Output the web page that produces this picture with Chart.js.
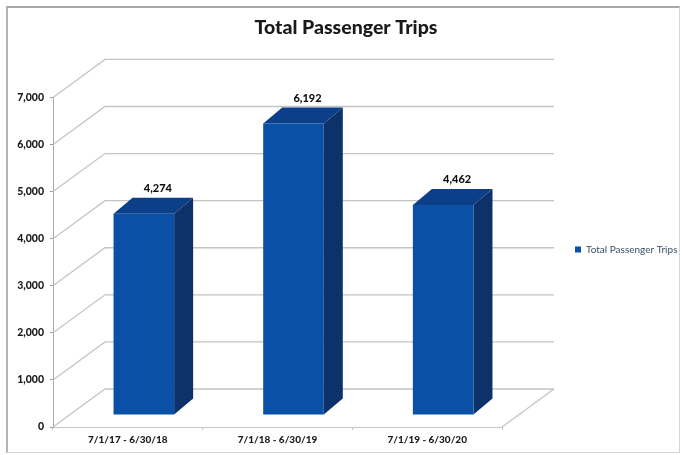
<!DOCTYPE html>
<html lang="en">
<head>
    <meta charset="utf-8">
    <title>Total Passenger Trips</title>
    <script src="https://cdn.jsdelivr.net/npm/chart.js@4/dist/chart.umd.min.js"></script>
    <style>
        html, body { margin: 0; background: #fff; overflow: hidden; }
        #frame { position: absolute; left: 6px; top: 6px; width: 674px; height: 447px; box-sizing: border-box;
                 border: 1px solid #d4d4d4; border-top: 2px solid #a8a8a8; border-left: 2px solid #b4b4b4; }
        /* the reference is a scan, so everything is a little soft */
        canvas { position: absolute; left: 0; top: 0; filter: blur(0.4px); }
    </style>
</head>
<body>
<div id="frame"></div>
<canvas id="tripsChart" width="683" height="455"></canvas>
<script>
    const periods = ["7/1/17 - 6/30/18", "7/1/18 - 6/30/19", "7/1/19 - 6/30/20"];
    const seriesName = "Total Passenger Trips";
    const trips = [4274, 6192, 4462];
    const yMax = 7000;
    const yStep = 1000;

    const fontName = "Lato, 'Open Sans', sans-serif";
    const gridColor = "#c4c4c4";

    // fake 3d: wall depth, and how far the bars sit in front of the wall
    const wall = {dx: 52, dy: -38};
    const barShift = {dx: 16, dy: -12};
    const barDepth = {dx: 19, dy: -16};
    const legendDrop = 22;

    function fillPoly(ctx, color, pts) {
        ctx.fillStyle = color;
        ctx.beginPath();
        pts.forEach((p, i) => i ? ctx.lineTo(p[0], p[1]) : ctx.moveTo(p[0], p[1]));
        ctx.closePath();
        ctx.fill();
    }

    const box3d = {
        id: "box3d",
        afterLayout(chart) {
            // legend sits above the middle of the plot in the reference
            chart.legend.top += legendDrop;
            chart.legend.bottom += legendDrop;
        },
        beforeDatasetsDraw(chart) {
            const ctx = chart.ctx;
            const area = chart.chartArea;
            const yScale = chart.scales.y;

            ctx.save();
            ctx.strokeStyle = gridColor;
            ctx.lineWidth = 1.3;
            yScale.ticks.forEach((t) => {
                const y = yScale.getPixelForValue(t.value);
                ctx.beginPath();
                ctx.moveTo(area.left, y);
                ctx.lineTo(area.left + wall.dx, y + wall.dy);
                ctx.lineTo(area.right + wall.dx, y + wall.dy);
                ctx.stroke();
            });
            ctx.beginPath();
            ctx.moveTo(area.right, area.bottom);
            ctx.lineTo(area.right + wall.dx, area.bottom + wall.dy);
            ctx.stroke();
            ctx.restore();

            // the side and top faces, then the bars themselves in the same shifted position
            ctx.save();
            ctx.translate(barShift.dx, barShift.dy);
            chart.getDatasetMeta(0).data.forEach((bar) => {
                const l = bar.x - bar.width / 2;
                const r = bar.x + bar.width / 2;
                fillPoly(ctx, "#0c3269", [[r, bar.y], [r + barDepth.dx, bar.y + barDepth.dy],
                    [r + barDepth.dx, bar.base + barDepth.dy], [r, bar.base]]);
                fillPoly(ctx, "#0b3f88", [[l, bar.y], [l + barDepth.dx, bar.y + barDepth.dy],
                    [r + barDepth.dx, bar.y + barDepth.dy], [r, bar.y]]);
            });
        },
        afterDatasetsDraw(chart) {
            const ctx = chart.ctx;
            ctx.restore();

            ctx.save();
            ctx.fillStyle = "#111";
            ctx.font = "900 11px " + fontName;
            ctx.textAlign = "center";
            ctx.textBaseline = "middle";
            chart.getDatasetMeta(0).data.forEach((bar, i) => {
                ctx.fillText(trips[i].toLocaleString("en-US"), bar.x + barShift.dx + 14, bar.y + barShift.dy - 25);
            });
            ctx.restore();
        }
    };

    new Chart(document.getElementById("tripsChart"), {
        type: "bar",
        data: {
            labels: periods,
            datasets: [{
                label: seriesName,
                data: trips,
                backgroundColor: "#0a50a6",
                borderWidth: 0,
                categoryPercentage: 1,
                barPercentage: 0.405,
                clip: false
            }]
        },
        options: {
            responsive: false,
            animation: false,
            layout: {padding: {top: 0, right: 5, bottom: 0, left: 14}},
            plugins: {
                title: {
                    display: true,
                    text: seriesName,
                    color: "#1a1a1a",
                    font: {family: fontName, size: 19.5, weight: "900"},
                    padding: {top: 16, bottom: 58}
                },
                legend: {
                    display: true,
                    position: "right",
                    maxWidth: 176,
                    labels: {
                        boxWidth: 6,
                        boxHeight: 6,
                        padding: 73,
                        color: "#3d4f66",
                        font: {family: fontName, size: 10}
                    }
                },
                tooltip: {enabled: false}
            },
            scales: {
                x: {
                    afterFit(s) { s.height = 28; },
                    grid: {drawOnChartArea: false, color: gridColor, tickLength: 3},
                    border: {color: gridColor},
                    ticks: {color: "#1a1a1a", padding: 4, font: {family: fontName, size: 10, weight: "900"}, maxRotation: 0}
                },
                y: {
                    min: 0,
                    max: yMax,
                    afterFit(s) { s.width = 39; },
                    grid: {drawOnChartArea: false, color: "#999", tickLength: 3},
                    border: {color: "#aaa"},
                    ticks: {
                        stepSize: yStep,
                        color: "#1a1a1a",
                        padding: 6,
                        font: {family: fontName, size: 10.5, weight: "900"},
                        callback: (v) => v.toLocaleString("en-US")
                    }
                }
            }
        },
        plugins: [box3d]
    });
</script>
</body>
</html>
